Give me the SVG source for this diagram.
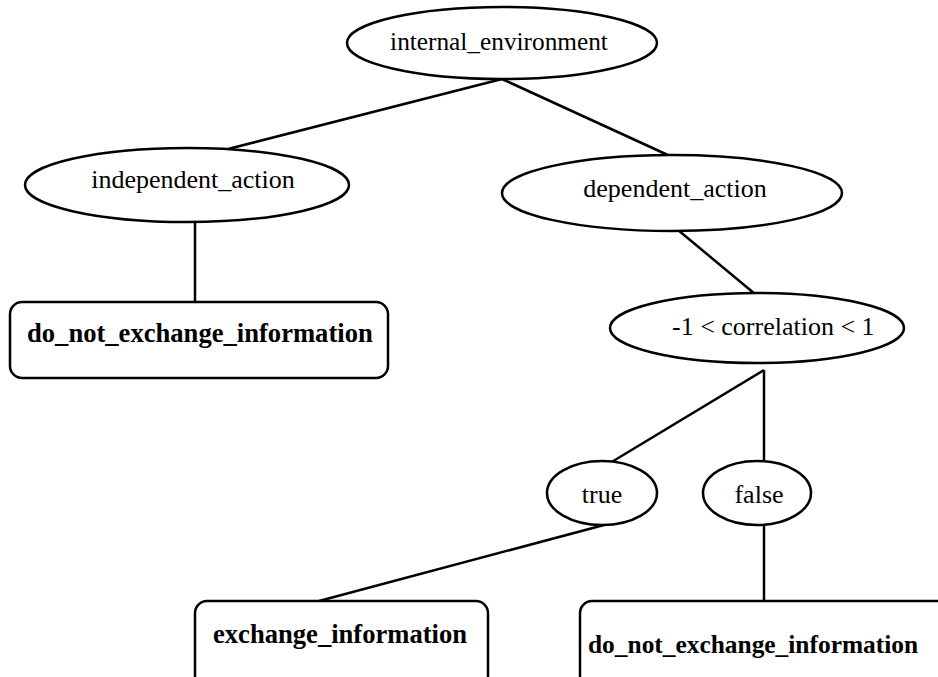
<svg xmlns="http://www.w3.org/2000/svg" width="938" height="677" viewBox="0 0 938 677">
  <style>
    .node { fill: #ffffff; stroke: #000000; stroke-width: 2.5; }
    .edge { stroke: #000000; stroke-width: 2.5; fill: none; }
    text { font-family: 'Liberation Serif', 'DejaVu Serif', serif; font-size: 26px; fill: #000000; }
    .bold { font-weight: bold; font-size: 26.6px; }
  </style>
  <rect x="0" y="0" width="938" height="677" fill="#ffffff"/>

  <g id="connectors">
    <line class="edge" x1="502" y1="79" x2="228" y2="149"/>
    <line class="edge" x1="502" y1="79" x2="670" y2="156"/>
    <line class="edge" x1="195" y1="222" x2="195" y2="302"/>
    <line class="edge" x1="672" y1="225" x2="755" y2="294"/>
    <line class="edge" x1="764" y1="370" x2="610" y2="463"/>
    <line class="edge" x1="764" y1="370" x2="764" y2="463"/>
    <line class="edge" x1="604" y1="525" x2="319" y2="601"/>
    <line class="edge" x1="764" y1="525" x2="764" y2="601"/>
  </g>

  <g id="internal_environment">
    <ellipse class="node" cx="502" cy="43" rx="155" ry="36"/>
    <text x="499" y="50" text-anchor="middle" style="font-size:25.3px">internal_environment</text>
  </g>

  <g id="independent_action">
    <ellipse class="node" cx="187" cy="185" rx="162" ry="37"/>
    <text x="193" y="188" text-anchor="middle">independent_action</text>
  </g>

  <g id="do_not_exchange_information_left">
    <rect class="node" x="10" y="302" width="378" height="76" rx="12" ry="12"/>
    <text class="bold" x="27" y="342">do_not_exchange_information</text>
  </g>

  <g id="dependent_action">
    <ellipse class="node" cx="672" cy="193" rx="170" ry="38"/>
    <text x="675" y="197" text-anchor="middle">dependent_action</text>
  </g>

  <g id="correlation">
    <ellipse class="node" cx="757" cy="328" rx="147" ry="35"/>
    <text x="672" y="335">-1 &lt; correlation &lt; 1</text>
  </g>

  <g id="true">
    <ellipse class="node" cx="602" cy="493" rx="55" ry="32"/>
    <text x="602" y="503" text-anchor="middle">true</text>
  </g>

  <g id="false">
    <ellipse class="node" cx="757" cy="493" rx="54" ry="32"/>
    <text x="759" y="503" text-anchor="middle">false</text>
  </g>

  <g id="exchange_information">
    <rect class="node" x="195" y="601" width="293" height="90" rx="12" ry="12"/>
    <text class="bold" x="213" y="643">exchange_information</text>
  </g>

  <g id="do_not_exchange_information_right">
    <rect class="node" x="580" y="601" width="380" height="90" rx="12" ry="12"/>
    <text class="bold" x="588" y="653" style="font-size:25.4px">do_not_exchange_information</text>
  </g>
</svg>
